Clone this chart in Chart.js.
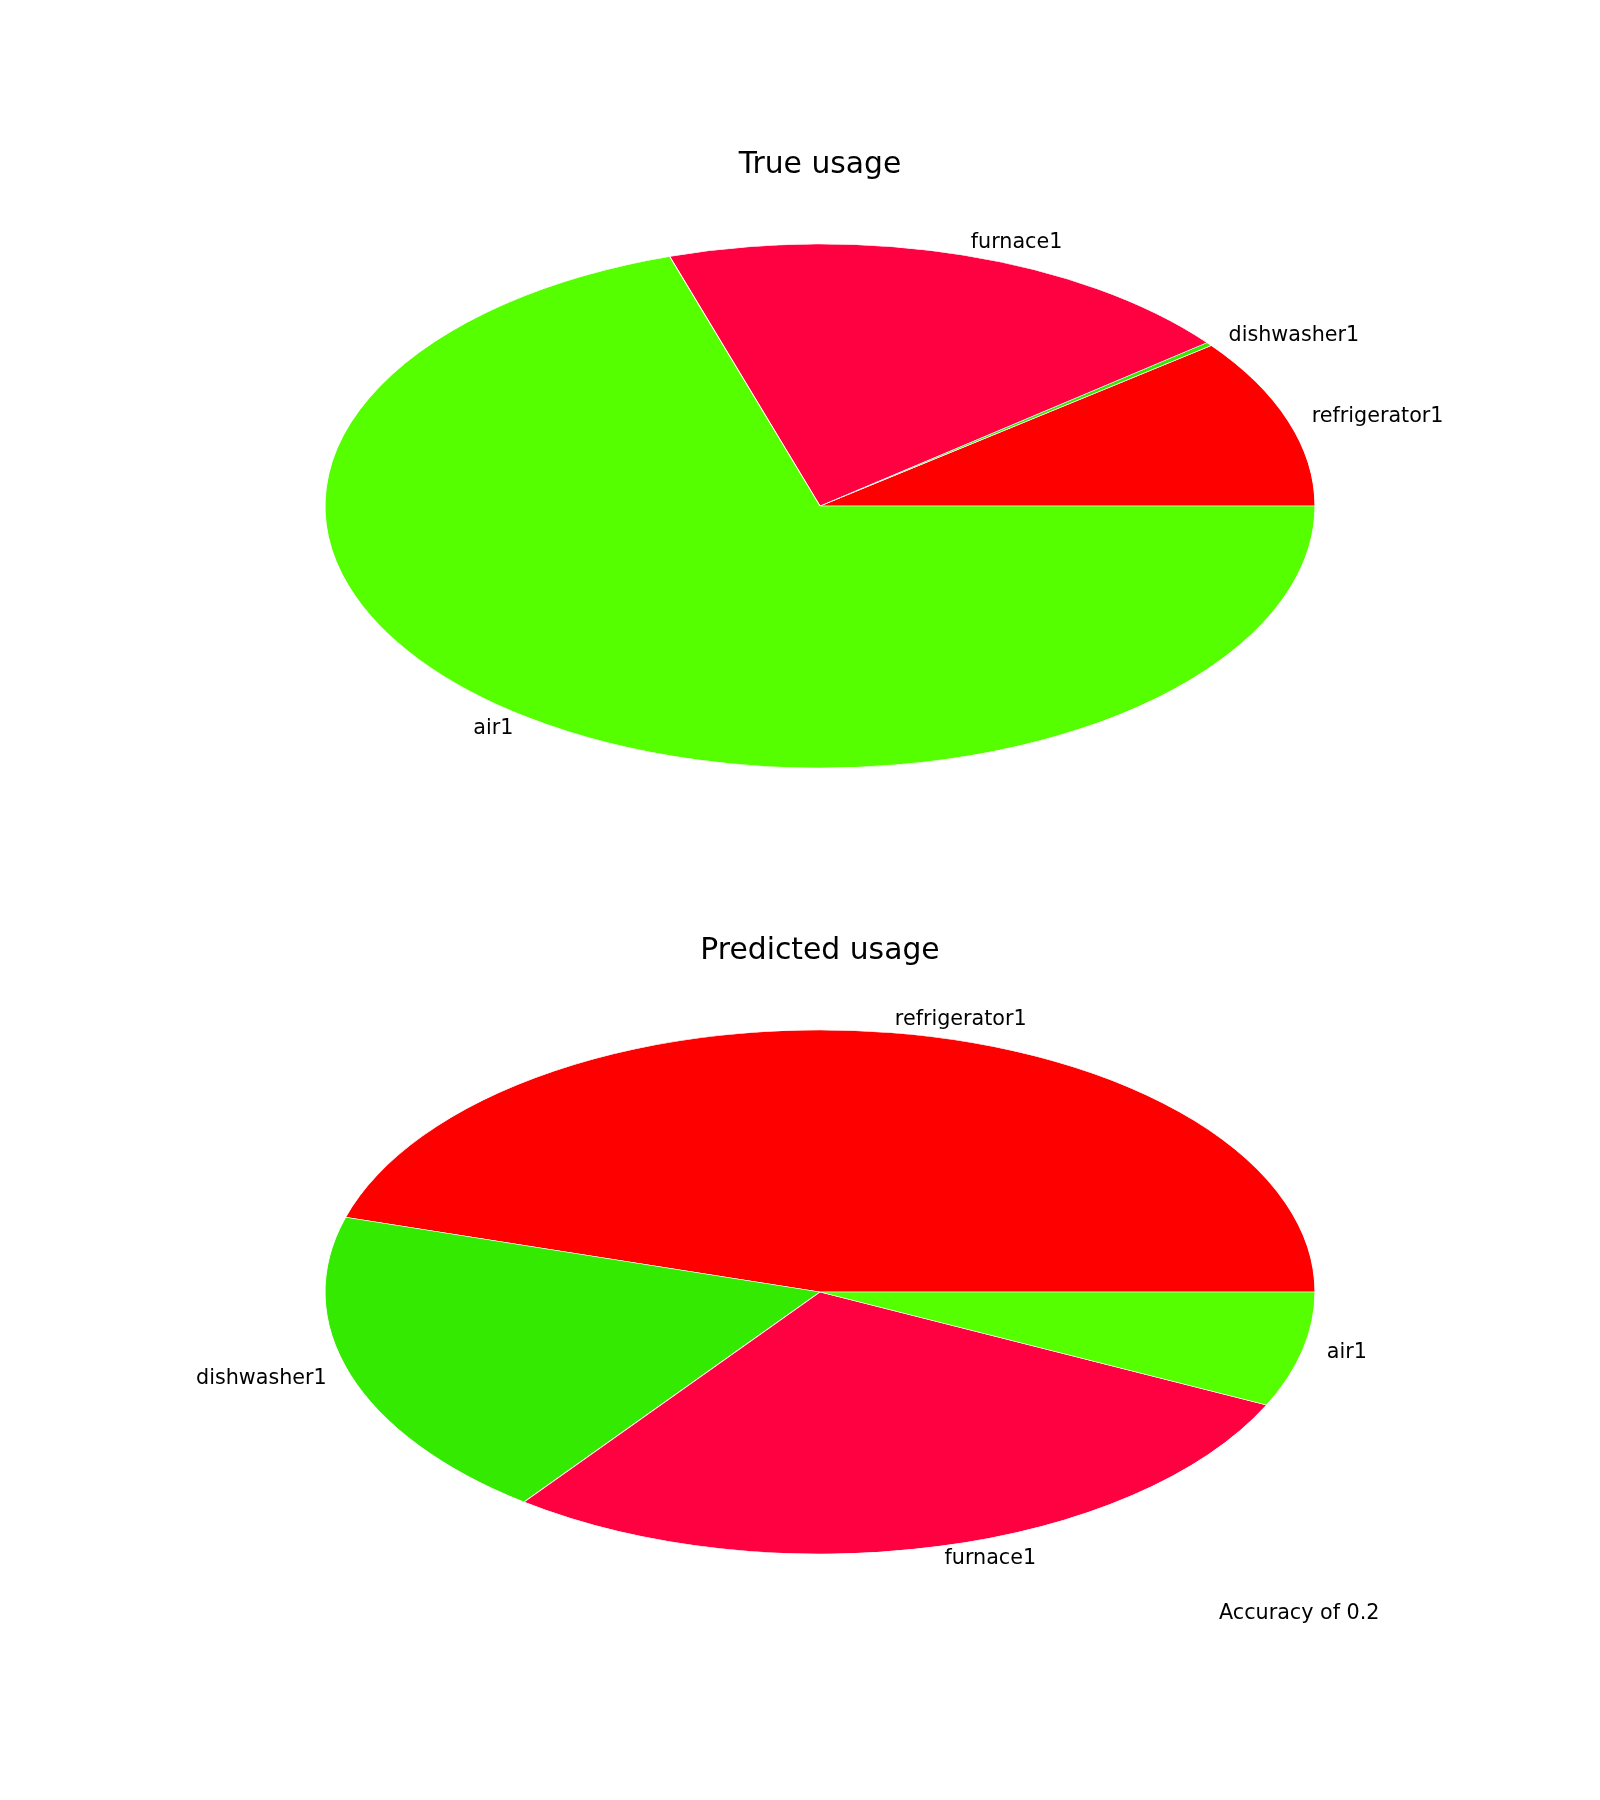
<!DOCTYPE html>
<html>
<head>
<meta charset="utf-8">
<script src="https://cdn.jsdelivr.net/npm/chart.js@4"></script>
<style>
  html, body { margin: 0; padding: 0; background: #fff; }
  #wrap { position: relative; width: 1600px; height: 1800px; }
  #wrap canvas { position: absolute; left: 0; top: 0; }
</style>
</head>
<body>
<div id="wrap">
  <canvas id="c1" width="1600" height="1800"></canvas>
  <canvas id="c2" width="1600" height="1800"></canvas>
</div>
<script>
// ---- data ----
const categories = ['refrigerator1', 'dishwasher1', 'furnace1', 'air1'];
const trueValues = [10.5, 0.22, 19.2, 70.1];
const predictedValues = [45.4, 19.4, 28.1, 7.1];
const titles = ['True usage', 'Predicted usage'];
const accuracyText = 'Accuracy of 0.2';

// ---- styles ----
const sliceColors = ['#ff0000', '#33ea00', '#ff0040', '#55ff00'];
const FONT = '"DejaVu Sans", sans-serif';
const LABEL_PX = 20.7, TITLE_PX = 29.8;
const RX = 495, RY = 262;           // ellipse radii in px
const LABEL_DIST = 1.05;

function ellipsePlugin(titleText, titleY, extra) {
  return {
    id: 'ellipse',
    beforeDatasetsDraw(chart) {
      const arc = chart.getDatasetMeta(0).data[0];
      const R = arc.outerRadius;
      const ctx = chart.ctx;
      ctx.save();
      ctx.translate(arc.x, arc.y);
      ctx.scale(RX / R, -RY / R);
      ctx.translate(-arc.x, -arc.y);
    },
    afterDatasetsDraw(chart) {
      chart.ctx.restore();
    },
    afterDraw(chart) {
      const ctx = chart.ctx;
      const meta = chart.getDatasetMeta(0);
      ctx.save();
      ctx.fillStyle = '#000';
      ctx.font = LABEL_PX + 'px ' + FONT;
      ctx.textBaseline = 'middle';
      meta.data.forEach((arc, i) => {
        const m = (arc.startAngle + arc.endAngle) / 2;
        const c = Math.cos(m), s = Math.sin(m);
        const x = arc.x + LABEL_DIST * RX * c;
        const y = arc.y - LABEL_DIST * RY * s;
        ctx.textAlign = c >= 0 ? 'left' : 'right';
        ctx.fillText(chart.data.labels[i], x, y);
      });
      ctx.font = TITLE_PX + 'px ' + FONT;
      ctx.textAlign = 'center';
      ctx.textBaseline = 'alphabetic';
      ctx.fillText(titleText, meta.data[0].x, titleY);
      if (extra) {
        ctx.font = LABEL_PX + 'px ' + FONT;
        ctx.textAlign = 'left';
        ctx.fillText(extra.text, extra.x, extra.y);
      }
      ctx.restore();
    }
  };
}

function makePie(id, values, padding, titleText, titleY, extra) {
  return new Chart(document.getElementById(id), {
    type: 'pie',
    data: {
      labels: categories,
      datasets: [{
        data: values,
        backgroundColor: sliceColors,
        borderColor: '#ffffff',
        borderWidth: 1,
        hoverOffset: 0,
        offset: 0
      }]
    },
    options: {
      responsive: false,
      animation: false,
      events: [],
      rotation: 90,
      layout: { padding: padding },
      plugins: {
        legend: { display: false },
        title: { display: false },
        tooltip: { enabled: false }
      }
    },
    plugins: [ellipsePlugin(titleText, titleY, extra)]
  });
}

makePie('c1', trueValues, { left: 325, right: 285, top: 11, bottom: 799 }, titles[0], 173, null);
makePie('c2', predictedValues, { left: 325, right: 285, top: 797, bottom: 13 }, titles[1], 959,
  { text: accuracyText, x: 1219, y: 1619 });
</script>
</body>
</html>
